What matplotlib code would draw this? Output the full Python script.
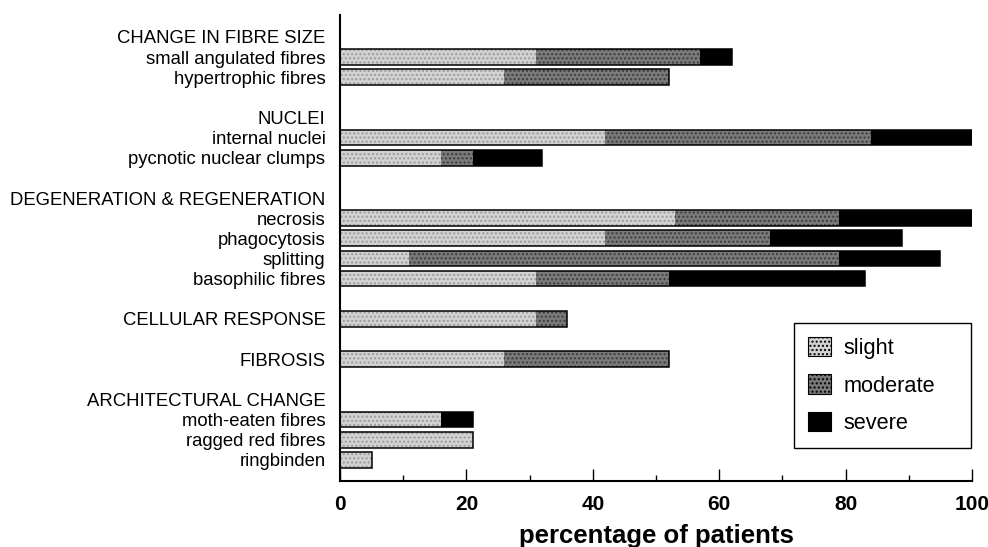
import matplotlib
matplotlib.use("Agg")
import matplotlib.pyplot as plt
import numpy as np

plt.rcParams["font.family"] = ["Liberation Sans", "DejaVu Sans"]
plt.rcParams["hatch.linewidth"] = 1.0

# rows from top to bottom; headers and blank rows carry no bar
labels = ["CHANGE IN FIBRE SIZE", "small angulated fibres", "hypertrophic fibres", "",
          "NUCLEI", "internal nuclei", "pycnotic nuclear clumps", "",
          "DEGENERATION & REGENERATION", "necrosis", "phagocytosis", "splitting",
          "basophilic fibres", "",
          "CELLULAR RESPONSE", "",
          "FIBROSIS", "",
          "ARCHITECTURAL CHANGE", "moth-eaten fibres", "ragged red fibres", "ringbinden"]

slight   = [0, 31, 26, 0, 0, 42, 16, 0, 0, 53, 42, 11, 31, 0, 31, 0, 26, 0, 0, 16, 21, 5]
moderate = [0, 26, 26, 0, 0, 42,  5, 0, 0, 26, 26, 68, 21, 0,  5, 0, 26, 0, 0,  0,  0, 0]
severe   = [0,  5,  0, 0, 0, 16, 11, 0, 0, 21, 21, 16, 31, 0,  0, 0,  0, 0, 0,  5,  0, 0]

series = ["slight", "moderate", "severe"]
faces = ["#d2d2d2", "#7a7a7a", "#000000"]
dots = ["#9a9a9a", "#3c3c3c", "#000000"]
hatches = ["....", "....", None]

fig = plt.figure(figsize=(9.88, 5.47), dpi=100)
ax = fig.add_axes([0.3441, 0.1207, 0.6397, 0.8519])

y = np.arange(len(labels))
s = np.array(slight, dtype=float)
m = np.array(moderate, dtype=float)
v = np.array(severe, dtype=float)
total = s + m + v
has_bar = total > 0
h = 0.78

left = np.zeros(len(labels))
for vals, name, fc, dc, ht in zip([s, m, v], series, faces, dots, hatches):
    ax.barh(y[has_bar], vals[has_bar], left=left[has_bar], height=h,
            facecolor=fc, edgecolor=dc, linewidth=0, hatch=ht, label=name)
    left = left + vals

# outline round each whole bar
ax.barh(y[has_bar], total[has_bar], height=h, fill=False,
        edgecolor="black", linewidth=1.1)

ax.set_xlim(0, 100)
ax.set_ylim(22.05, -1.09)
ax.set_yticks(y)
ax.set_yticklabels(labels, fontsize=13.3)
ax.tick_params(axis="y", length=0, pad=10.5)

ax.set_xticks(np.arange(0, 101, 20))
ax.set_xticks(np.arange(10, 100, 20), minor=True)
ax.tick_params(axis="x", which="major", direction="in", length=8.5, width=1,
               labelsize=15, pad=10)
ax.tick_params(axis="x", which="minor", direction="in", length=4.3, width=1)
for lab in ax.get_xticklabels():
    lab.set_fontweight("bold")

ax.set_xlabel("percentage of patients", fontsize=18.5, fontweight="bold", labelpad=7)

for side in ["top", "right"]:
    ax.spines[side].set_visible(False)
for side in ["left", "bottom"]:
    ax.spines[side].set_linewidth(1.5)

leg = ax.legend(loc="lower left", bbox_to_anchor=(0.718, 0.0708, 0.2805, 0.266),
                mode="expand", borderaxespad=0, fontsize=15.7, frameon=True,
                fancybox=False, edgecolor="black", framealpha=1,
                handlelength=1.05, handleheight=1.0, handletextpad=0.6,
                labelspacing=0.7, borderpad=0.64)
leg.get_frame().set_linewidth(1.0)
for patch in leg.get_patches():
    patch.set_edgecolor("black")
    patch.set_linewidth(0.8)

fig.savefig("out.png", dpi=100)
